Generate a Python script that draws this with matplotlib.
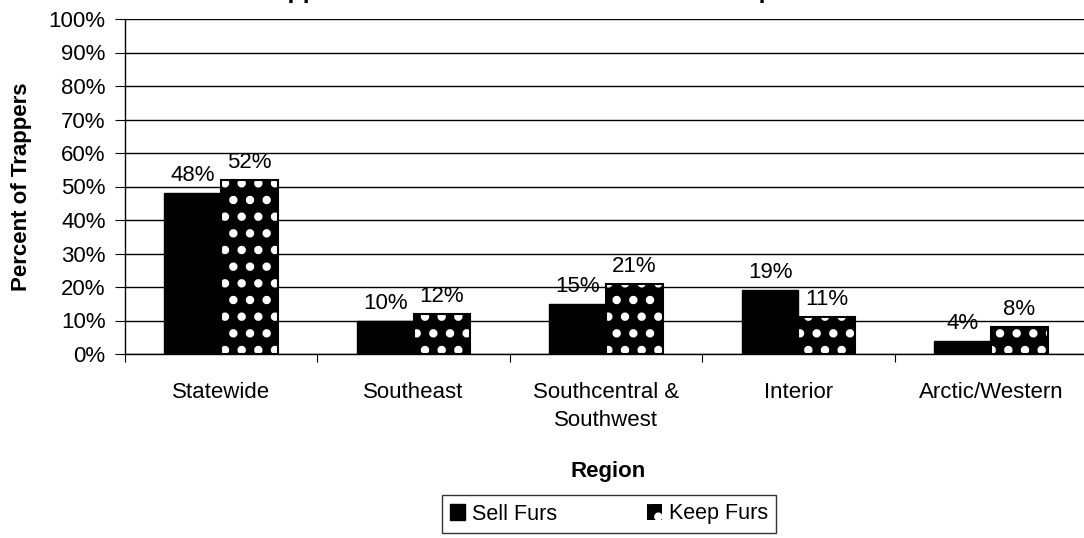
import numpy as np
import matplotlib.pyplot as plt

plt.rcParams['font.family'] = ['Liberation Sans', 'DejaVu Sans']
plt.rcParams['hatch.linewidth'] = 3.6

# data
regions = ['Statewide', 'Southeast', 'Southcentral &\nSouthwest', 'Interior', 'Arctic/Western']
sell = [48, 10, 15, 19, 4]
keep = [52, 12, 21, 11, 8]
yticks = list(range(0, 101, 10))

W, H = 1084, 538
fig = plt.figure(figsize=(W / 100, H / 100), dpi=100)
ax = fig.add_axes([125 / W, 1 - 354 / H, 962 / W, 335 / H])

x = np.arange(len(regions))
bw = 0.295
fs = 16

b1 = ax.bar(x - bw / 2, sell, bw, color='black', edgecolor='black', linewidth=1,
            label='Sell Furs', zorder=3)
b2 = ax.bar(x + bw / 2, keep, bw, color='black', edgecolor='white', hatch='.',
            linewidth=0, label='Keep Furs', zorder=3)
# outline for the patterned bars
ax.bar(x + bw / 2, keep, bw, fill=False, edgecolor='black', linewidth=1.5, zorder=4)

for bars, vals in ((b1, sell), (b2, keep)):
    for r, v in zip(bars, vals):
        ax.annotate(f'{v}%', (r.get_x() + r.get_width() / 2, v),
                    xytext=(0, 5), textcoords='offset points',
                    ha='center', va='bottom', fontsize=fs)

ax.set_xlim(-0.5, len(regions) - 0.5)
ax.set_ylim(0, 100)
ax.set_yticks(yticks)
ax.set_yticklabels([f'{t}%' for t in yticks], fontsize=fs)
ax.yaxis.grid(True, color='black', linewidth=1)
ax.set_axisbelow(True)

# ticks at group boundaries, labels at centres
ax.set_xticks(np.arange(len(regions) + 1) - 0.5)
ax.set_xticklabels([])
ax.set_xticks(x, minor=True)
ax.set_xticklabels(regions, minor=True, fontsize=fs, va='top', linespacing=1.45)
ax.tick_params(axis='x', which='minor', length=0, pad=20)
ax.tick_params(axis='x', which='major', direction='out', length=6, color='black')
ax.tick_params(axis='y', direction='out', length=7, color='black', pad=7)

for s in ('top', 'right'):
    ax.spines[s].set_visible(False)
for s in ('left', 'bottom'):
    ax.spines[s].set_color('black')
    ax.spines[s].set_linewidth(1)

ax.set_ylabel('Percent of Trappers', fontsize=fs, fontweight='bold', labelpad=12)
fig.text(608 / W, 1 - 471 / H, 'Region', ha='center', va='center',
         fontsize=fs, fontweight='bold')
fig.text(0.5, 1 + 2 / H, 'Trappers that Sell Furs and Those that Keep Furs',
         ha='center', va='baseline', fontsize=18, fontweight='bold')

leg = fig.legend(handles=[b1, b2], loc='center', ncol=2,
                 bbox_to_anchor=(609 / W, 1 - 514 / H), fontsize=15.5,
                 frameon=True, fancybox=False, handlelength=0.7, handleheight=0.7,
                 handletextpad=0.3, columnspacing=4.2, borderpad=0.4)
leg.get_frame().set_edgecolor('black')
leg.get_frame().set_linewidth(1)

fig.savefig('out.png', dpi=100)
